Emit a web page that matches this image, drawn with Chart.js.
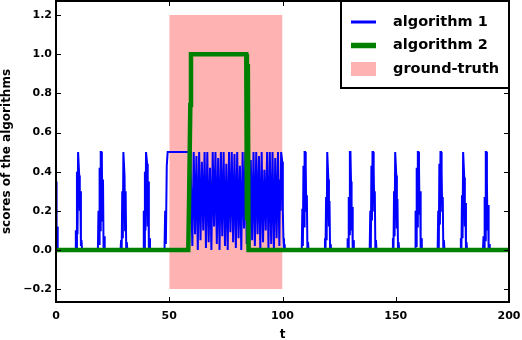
<!DOCTYPE html>
<html>
<head>
<meta charset="utf-8">
<script src="https://cdn.jsdelivr.net/npm/chart.js@4.4.0/dist/chart.umd.min.js"></script>
<style>
  html, body { margin: 0; padding: 0; background: #fff; }
  #chart { display: block; }
</style>
</head>
<body>
<canvas id="chart" width="522" height="340"></canvas>
<script>
const xTicks = [0, 50, 100, 150, 200];
const yTicks = [-0.2, 0.0, 0.2, 0.4, 0.6, 0.8, 1.0, 1.2];
const yTickLabels = ['\u22120.2', '0.0', '0.2', '0.4', '0.6', '0.8', '1.0', '1.2'];
const seriesNames = ['algorithm 1', 'algorithm 2', 'ground-truth'];

// algorithm 1 pulses: [start t, values read every 0.25 of t]
const alg1Pulses = [
  [0.0, [0.35, 0.05, 0.12, 0]],
  [8.5, [0, 0.1, 0.0, 0.4, 0.08, 0.5, 0.5, 0.38, 0.2, 0.3, 0.02, 0.05, 0]],
  [18.5, [0, 0.2, 0.03, 0.42, 0.1, 0.5, 0.5, 0.45, 0.15, 0.36, 0.0, 0.07, 0]],
  [28.5, [0, 0.05, 0.0, 0.3, 0.06, 0.5, 0.5, 0.38, 0.1, 0.3, 0.0, 0.04, 0]],
  [38.5, [0, 0.2, 0.01, 0.4, 0.1, 0.5, 0.5, 0.44, 0.12, 0.35, 0.0, 0.06, 0]],
  [98.9, [0.36, 0.2, 0.5, 0.5, 0.45, 0.2, 0.06, 0.0, 0.03, 0]],
  [108.5, [0, 0.21, 0.02, 0.43, 0.12, 0.5, 0.5, 0.43, 0.2, 0.28, 0.0, 0.04, 0]],
  [118.5, [0, 0.06, 0.0, 0.27, 0.05, 0.5, 0.5, 0.36, 0.12, 0.25, 0.0, 0.03, 0]],
  [128.5, [0, 0.06, 0.01, 0.27, 0.08, 0.5, 0.5, 0.35, 0.1, 0.22, 0.0, 0.05, 0]],
  [138.5, [0, 0.2, 0.0, 0.43, 0.15, 0.5, 0.5, 0.42, 0.2, 0.3, 0.0, 0.05, 0]],
  [148.5, [0, 0.06, 0.0, 0.3, 0.07, 0.5, 0.5, 0.38, 0.11, 0.26, 0.0, 0.04, 0]],
  [158.5, [0, 0.2, 0.02, 0.42, 0.12, 0.5, 0.5, 0.44, 0.18, 0.3, 0.01, 0.06, 0]],
  [168.5, [0, 0.2, 0.0, 0.44, 0.13, 0.5, 0.5, 0.4, 0.2, 0.27, 0.0, 0.05, 0]],
  [178.5, [0, 0.06, 0.01, 0.28, 0.06, 0.5, 0.5, 0.37, 0.12, 0.24, 0.0, 0.04, 0]],
  [188.5, [0, 0.07, 0.0, 0.27, 0.05, 0.5, 0.5, 0.35, 0.1, 0.23, 0.0, 0.03, 0]]
];
// plateau just before the burst
const alg1Plateau = [[47.9, 0], [48.2, 0.2], [48.5, 0.03], [48.9, 0.43], [49.3, 0.5], [59.3, 0.5]];
// fast burst in the ground-truth window, values every 0.6 of t
const alg1BurstStart = 59.6;
const alg1Burst = [
  0.5, 0.02, 0.5, 0.08, 0.48, 0.0, 0.5, 0.05, 0.45, 0.1, 0.5, 0.01,
  0.5, 0.04, 0.42, 0.0, 0.5, 0.12, 0.5, 0.03, 0.47, 0.0, 0.5, 0.07,
  0.5, 0.02, 0.44, 0.0, 0.5, 0.09, 0.5, 0.04, 0.49, 0.01, 0.5, 0.06,
  0.43, 0.0, 0.5, 0.11, 0.5, 0.03, 0.5, 0.0, 0.46, 0.05, 0.5, 0.02,
  0.5, 0.08, 0.48, 0.0, 0.5, 0.04, 0.41, 0.1, 0.5, 0.01, 0.5, 0.03,
  0.5, 0.0, 0.47, 0.06, 0.5, 0.02
];
const alg1End = [200, 0];

const alg2Points = [
  [0, 0], [58.4, 0], [58.8, 0.29], [59.3, 0.74], [59.6, 1.0],
  [84.0, 1.0], [84.3, 0.15], [84.7, 0.95], [85.0, 0], [200, 0]
];

const truthX = [50, 100];
const truthY = [-0.2, 1.2];

// build the point lists
const alg1Data = [];
alg1Pulses.forEach(([t0, ys]) => {
  ys.forEach((y, i) => alg1Data.push({ x: +(t0 + i * 0.25).toFixed(2), y }));
});
alg1Plateau.forEach(([x, y]) => alg1Data.push({ x, y }));
alg1Burst.forEach((y, i) => alg1Data.push({ x: +(alg1BurstStart + i * 0.6).toFixed(2), y }));
alg1Data.push({ x: alg1End[0], y: alg1End[1] });
alg1Data.sort((a, b) => a.x - b.x);

const alg2Data = alg2Points.map(([x, y]) => ({ x, y }));
const truthData = truthX.map(x => ({ x, y: truthY[1] }));

const tickFont = { family: 'DejaVu Sans', size: 11, weight: 'bold' };

const framePlugin = {
  id: 'frame',
  afterDraw(chart) {
    const { ctx, chartArea: a, scales: { x, y } } = chart;
    ctx.save();
    ctx.strokeStyle = '#000';
    ctx.lineWidth = 1;
    ctx.beginPath();
    xTicks.forEach(v => {
      const px = Math.round(x.getPixelForValue(v)) + 0.5;
      ctx.moveTo(px, a.bottom); ctx.lineTo(px, a.bottom - 5);
      ctx.moveTo(px, a.top); ctx.lineTo(px, a.top + 5);
    });
    yTicks.forEach(v => {
      const py = Math.round(y.getPixelForValue(v)) + 0.5;
      ctx.moveTo(a.left, py); ctx.lineTo(a.left + 5, py);
      ctx.moveTo(a.right, py); ctx.lineTo(a.right - 5, py);
    });
    ctx.stroke();
    ctx.lineWidth = 2;
    ctx.strokeRect(a.left, a.top, a.right - a.left, a.bottom - a.top);

    // legend box, top right inside the plot
    const lw = 168, lh = 87;
    const lx = a.right - lw, ly = a.top;
    ctx.fillStyle = '#fff';
    ctx.fillRect(lx, ly, lw, lh);
    ctx.strokeRect(lx, ly, lw, lh);
    ctx.font = 'bold 14.5px "DejaVu Sans"';
    ctx.textBaseline = 'middle';
    chart.data.datasets.forEach((ds, i) => {
      const cy = ly + 21 + i * 23.5;
      if (ds.fill) {
        ctx.fillStyle = ds.backgroundColor;
        ctx.fillRect(lx + 10, cy - 7, 25, 14);
      } else {
        ctx.strokeStyle = ds.borderColor;
        ctx.lineWidth = ds.borderWidth + 1;
        ctx.beginPath();
        ctx.moveTo(lx + 10, cy); ctx.lineTo(lx + 35, cy);
        ctx.stroke();
      }
      ctx.fillStyle = '#000';
      ctx.fillText(ds.label, lx + 52, cy);
    });
    ctx.restore();
  }
};

new Chart(document.getElementById('chart'), {
  type: 'line',
  data: {
    datasets: [
      {
        label: seriesNames[0],
        data: alg1Data,
        borderColor: '#0000ff',
        borderWidth: 2,
        pointRadius: 0,
        tension: 0,
        fill: false,
        order: 2
      },
      {
        label: seriesNames[1],
        data: alg2Data,
        borderColor: '#008000',
        borderWidth: 4.5,
        borderJoinStyle: 'miter',
        pointRadius: 0,
        tension: 0,
        fill: false,
        order: 1
      },
      {
        label: seriesNames[2],
        data: truthData,
        borderWidth: 0,
        borderColor: 'rgba(0,0,0,0)',
        backgroundColor: 'rgba(255,0,0,0.3)',
        pointRadius: 0,
        fill: { value: truthY[0] },
        order: 3
      }
    ]
  },
  options: {
    responsive: false,
    animation: false,
    devicePixelRatio: 1,
    layout: { padding: { left: 0, right: 13, top: 1, bottom: 0 } },
    plugins: { legend: { display: false }, tooltip: { enabled: false } },
    scales: {
      x: {
        type: 'linear',
        min: 0,
        max: 200,
        grid: { display: false, drawTicks: false },
        border: { display: false },
        afterBuildTicks: axis => { axis.ticks = xTicks.map(v => ({ value: v })); },
        afterFit: axis => { axis.height = 38; axis.paddingLeft = 0; axis.paddingRight = 0; },
        ticks: {
          color: '#000',
          font: tickFont,
          padding: 8,
          maxRotation: 0,
          callback: v => String(v)
        },
        title: {
          display: true,
          text: 't',
          color: '#000',
          font: { family: 'DejaVu Sans', size: 12, weight: 'bold' },
          padding: { top: 0, bottom: -2 }
        }
      },
      y: {
        type: 'linear',
        min: -0.266,
        max: 1.272,
        grid: { display: false, drawTicks: false },
        border: { display: false },
        afterBuildTicks: axis => { axis.ticks = yTicks.map(v => ({ value: v })); },
        afterFit: axis => { axis.width = 56; axis.paddingTop = 0; axis.paddingBottom = 0; },
        ticks: {
          color: '#000',
          font: tickFont,
          padding: 4,
          callback: (v, i) => yTickLabels[i]
        },
        title: {
          display: true,
          text: 'scores of the algorithms',
          color: '#000',
          font: { family: 'DejaVu Sans', size: 12, weight: 'bold' },
          padding: { top: 0, bottom: 0 }
        }
      }
    }
  },
  plugins: [framePlugin]
});
</script>
</body>
</html>
